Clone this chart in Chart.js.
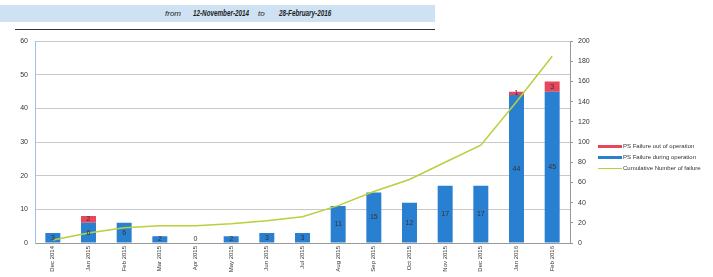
<!doctype html>
<html lang="en">
<head>
<meta charset="utf-8">
<title>PS failures</title>
<script src="https://cdn.jsdelivr.net/npm/chart.js"></script>
<style>
  body { margin: 0; width: 713px; height: 277px; background: #fff; font-family: "Liberation Sans", Arial, sans-serif; position: relative; overflow: hidden; }
  #band { position: absolute; left: 0; top: 5px; width: 435px; height: 17px; background: #cfe2f3; font-size: 8px; font-style: italic; color: #222; }
  #band span { position: absolute; top: 3px; }
  #band b { display: inline-block; font-size: 9px; transform: scaleX(0.7); transform-origin: left center; }
  #rule { position: absolute; left: 15px; top: 29px; width: 420px; height: 1px; background: #333; }
  #wrap { position: absolute; left: 0; top: 30px; width: 600px; height: 247px; }
  #legend { position: absolute; left: 598px; top: 141px; font-size: 6px; color: #333; }
  #legend div { height: 11px; line-height: 11px; white-space: nowrap; }
  #legend i { display: inline-block; width: 24px; vertical-align: middle; margin-right: 1px; }
</style>
</head>
<body>
<div id="band">
  <span style="left:165px;top:4px">from</span>
  <span style="left:193px"><b>12-November-2014</b></span>
  <span style="left:258px;top:4px">to</span>
  <span style="left:279px"><b>28-February-2016</b></span>
</div>
<div id="rule"></div>
<div id="wrap"><canvas id="chart"></canvas></div>
<div id="legend">
  <div><i style="height:3px;background:#e8475a"></i>PS Failure out of operation</div>
  <div><i style="height:3px;background:#2a80d0"></i>PS Failure during operation</div>
  <div><i style="height:1.5px;background:#b8d03c"></i>Cumulative Number of failure</div>
</div>
<script>
  const months = ["Dec 2014", "Jan 2015", "Feb 2015", "Mar 2015", "Apr 2015", "May 2015", "Jun 2015", "Jul 2015",
    "Aug 2015", "Sep 2015", "Oct 2015", "Nov 2015", "Dec 2015", "Jan 2016", "Feb 2016"];
  const duringOperation = [3, 6, 6, 2, 0, 2, 3, 3, 11, 15, 12, 17, 17, 44, 45];
  const outOfOperation = [0, 2, 0, 0, 0, 0, 0, 0, 0, 0, 0, 0, 0, 1, 3];
  const cumulative = [3, 10, 15, 17, 17, 19, 22, 26, 37, 51, 63, 80, 97, 140, 185];
  const leftTicks = [0, 10, 20, 30, 40, 50, 60];
  const rightTicks = [0, 20, 40, 60, 80, 100, 120, 140, 160, 180, 200];

  // value labels in the middle of each bar piece
  const barLabels = {
    id: "barLabels",
    afterDatasetsDraw(chart) {
      const ctx = chart.ctx;
      ctx.save();
      ctx.font = "7px 'Liberation Sans', Arial";
      ctx.fillStyle = "#333";
      ctx.textAlign = "center";
      ctx.textBaseline = "middle";
      [0, 1].forEach(di => {
        const meta = chart.getDatasetMeta(di);
        const values = chart.data.datasets[di].data;
        meta.data.forEach((bar, i) => {
          const v = values[i];
          if (di === 1 && v === 0) return;
          if (di === 0 && v === 0) {
            ctx.fillText("0", bar.x, bar.y - 4);
            return;
          }
          ctx.fillText(String(v), bar.x, (bar.y + bar.base) / 2);
        });
      });
      ctx.restore();
    }
  };

  new Chart(document.getElementById("chart"), {
    type: "bar",
    data: {
      labels: months,
      datasets: [
        {
          label: "PS Failure during operation",
          data: duringOperation,
          backgroundColor: "#2a80d0",
          stack: "ps",
          yAxisID: "y",
          barPercentage: 0.42,
          categoryPercentage: 1,
          order: 2
        },
        {
          label: "PS Failure out of operation",
          data: outOfOperation,
          backgroundColor: "#e8475a",
          stack: "ps",
          yAxisID: "y",
          barPercentage: 0.42,
          categoryPercentage: 1,
          order: 2
        },
        {
          type: "line",
          label: "Cumulative Number of failure",
          data: cumulative,
          borderColor: "#b8d03c",
          borderWidth: 1.5,
          pointRadius: 0,
          tension: 0,
          yAxisID: "y1",
          order: 1
        }
      ]
    },
    options: {
      responsive: true,
      maintainAspectRatio: false,
      animation: false,
      layout: { padding: { top: 10, left: 0, right: 0, bottom: 0 } },
      plugins: { legend: { display: false }, tooltip: { enabled: false } },
      scales: {
        x: {
          stacked: true,
          grid: { display: false, drawTicks: false },
          border: { color: "#999" },
          ticks: { font: { size: 6 }, color: "#333", minRotation: 90, maxRotation: 90, autoSkip: false, padding: 3 },
          afterFit(s) { s.height = 34; }
        },
        y: {
          stacked: true,
          min: 0, max: 60,
          afterBuildTicks(s) { s.ticks = leftTicks.map(v => ({ value: v })); },
          grid: { color: "#c8c8c8", drawTicks: false },
          border: { color: "#9cc3e6" },
          ticks: { font: { size: 7 }, color: "#333", padding: 7 },
          afterFit(s) { s.width = 35; }
        },
        y1: {
          position: "right",
          min: 0, max: 200,
          afterBuildTicks(s) { s.ticks = rightTicks.map(v => ({ value: v })); },
          grid: { drawOnChartArea: false, color: "#999", tickLength: 3 },
          border: { color: "#999" },
          ticks: { font: { size: 7 }, color: "#333", padding: 5 },
          afterFit(s) { s.width = 30; }
        }
      }
    },
    plugins: [barLabels]
  });
</script>
</body>
</html>
